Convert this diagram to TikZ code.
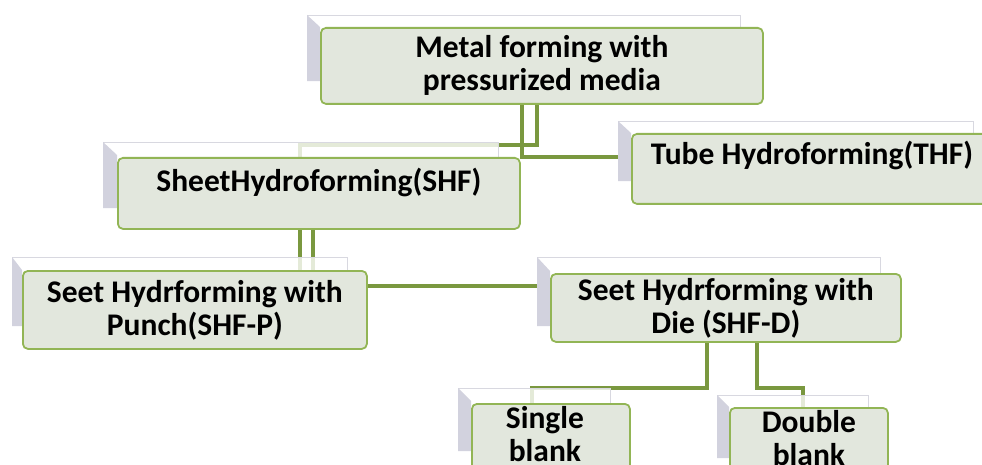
\documentclass[tikz,border=0pt]{standalone}
\usepackage{fontspec}
\setmainfont{Carlito}
\definecolor{connc}{HTML}{7A983F}
\definecolor{boxedge}{HTML}{92B555}
\definecolor{boxfill}{HTML}{E2E7DD}
\definecolor{backedge}{HTML}{D8D8E0}
\definecolor{bevelc}{HTML}{D2D2DE}
\pgfdeclarelayer{connl}
\pgfdeclarelayer{backl}
\pgfsetlayers{connl,backl,main}
\begin{document}
\begin{tikzpicture}[x=1pt,y=-1pt,
  frontbox/.style={draw=boxedge, line width=1.8pt, fill=boxfill, rounded corners=5pt,
    anchor=north west, inner sep=0pt, font=\fontsize{31.5}{33}\selectfont\bfseries, text=black},
  backbox/.style={draw=backedge, line width=1.2pt, fill=white, fill opacity=0.8,
    anchor=north west, inner sep=0pt},
  bevel/.style={fill=bevelc},
  conn/.style={draw=connc, line width=3.6pt, line join=miter}]
\useasboundingbox (0,0) rectangle (982,465);
% front boxes
\node[frontbox, align=center, minimum width=442pt, minimum height=76pt] (top) at (320,27) {Metal forming with\\pressurized media};
\node[frontbox, minimum width=402pt, minimum height=71pt, text height=34pt, text depth=37pt] (shf) at (117,157) {SheetHydroforming(SHF)};
\node[frontbox, minimum width=360pt, minimum height=70pt, text height=31pt, text depth=39pt] (thf) at (631,133) {Tube Hydroforming(THF)};
\node[frontbox, align=center, minimum width=344pt, minimum height=78pt] (shfp) at (22,270) {Seet Hydrforming with\\Punch(SHF-P)};
\node[frontbox, align=center, minimum width=350pt, minimum height=68pt] (shfd) at (550,273) {Seet Hydrforming with\\Die (SHF-D)};
\node[frontbox, align=center, minimum width=158pt, minimum height=91pt] (single) at (471,403) {Single\hspace*{12pt}\\blank\hspace*{12pt}\rule[-30pt]{0pt}{0pt}};
\node[frontbox, align=center, minimum width=158pt, minimum height=91pt] (double) at (729,407) {Double\\blank\rule[-30pt]{0pt}{0pt}};
% back (shadow) boxes
\begin{pgfonlayer}{backl}
\node[backbox, minimum width=433pt, minimum height=65pt] (btop) at (307,15) {};
\fill[bevel] (btop.north west) -- ++(13,12) |- (btop.south west) -- cycle;
\node[backbox, minimum width=395pt, minimum height=65pt] (bshf) at (103,142) {};
\fill[bevel] (bshf.north west) -- ++(14,13) |- (bshf.south west) -- cycle;
\node[backbox, minimum width=355pt, minimum height=59pt] (bthf) at (618,121) {};
\fill[bevel] (bthf.north west) -- ++(13,12) |- (bthf.south west) -- cycle;
\node[backbox, minimum width=335pt, minimum height=68pt] (bshfp) at (12,257) {};
\fill[bevel] (bshfp.north west) -- ++(10,13) |- (bshfp.south west) -- cycle;
\node[backbox, minimum width=343pt, minimum height=68pt] (bshfd) at (537,257) {};
\fill[bevel] (bshfd.north west) -- ++(13,14) |- (bshfd.south west) -- cycle;
\node[backbox, minimum width=152pt, minimum height=62pt] (bsingle) at (458,388) {};
\fill[bevel] (bsingle.north west) -- ++(13,13) |- (bsingle.south west) -- cycle;
\node[backbox, minimum width=151pt, minimum height=62pt] (bdouble) at (717,395) {};
\fill[bevel] (bdouble.north west) -- ++(12,12) |- (bdouble.south west) -- cycle;
\end{pgfonlayer}
% connectors
\begin{pgfonlayer}{connl}
\draw[conn] (top.south -| 537,0) |- (300,145) -- (shf.north -| 300,0);
\draw[conn] (top.south -| 522,0) |- (thf.west |- 0,157);
\draw[conn] (shf.south -| 300,0) -- (shfp.north -| 300,0);
\draw[conn] (shf.south -| 313,0) -- (shfp.north -| 313,0);
\draw[conn] (shfp.east |- 0,286) -- (shfd.west |- 0,286);
\draw[conn] (shfd.south -| 707,0) |- (532,388) -- (single.north -| 532,0);
\draw[conn] (shfd.south -| 757,0) |- (803,388) -- (double.north -| 803,0);
\end{pgfonlayer}
\end{tikzpicture}
\end{document}
